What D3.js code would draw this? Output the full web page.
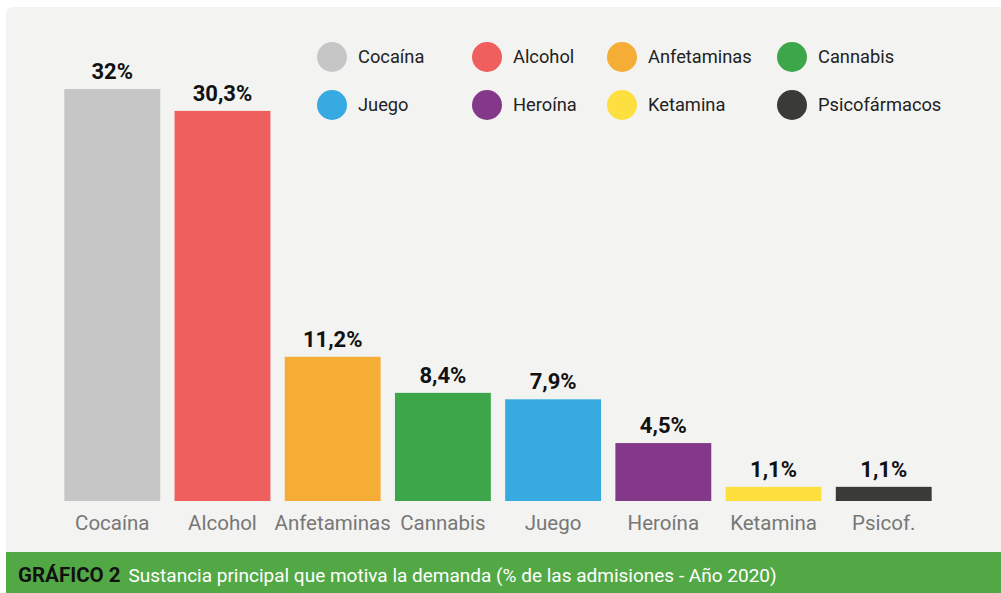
<!DOCTYPE html>
<html>
<head>
<meta charset="utf-8">
<script src="https://cdn.jsdelivr.net/npm/d3@7"></script>
<style>
  body { margin: 0; background: #fff; }
  svg { display: block; font-family: Roboto, "Noto Sans", sans-serif; }
</style>
</head>
<body>
<svg width="1001" height="593"></svg>
<script>
const categories = ['Cocaína', 'Alcohol', 'Anfetaminas', 'Cannabis', 'Juego', 'Heroína', 'Ketamina', 'Psicof.']
const legendNames = ['Cocaína', 'Alcohol', 'Anfetaminas', 'Cannabis', 'Juego', 'Heroína', 'Ketamina', 'Psicofármacos']
const values = [32, 30.3, 11.2, 8.4, 7.9, 4.5, 1.1, 1.1]
const colors = ['#c6c6c6', '#ee5f5e', '#f5ad35', '#3ea64a', '#38aae2', '#833889', '#fddf3f', '#3a3a38']

const svg = d3.select('svg')
const w = +svg.attr('width'), h = +svg.attr('height')

// panel background with rounded top-left corner
svg.append('path')
    .attr('d', `M6,15 Q6,7 14,7 L${w},7 L${w},${h} L6,${h} Z`)
    .attr('fill', '#f3f3f2')

const x = d3.scaleBand()
    .domain(categories)
    .range([50, 946])
    .padding(0.13)

const y = d3.scaleLinear()
    .domain([0, 32])
    .range([501, 89])

const fmt = v => String(v).replace('.', ',') + '%'

svg.selectAll('rect.bar')
    .data(values)
    .enter()
    .append('rect')
    .attr('class', 'bar')
    .attr('x', (d, i) => x(categories[i]))
    .attr('y', d => y(d))
    .attr('width', x.bandwidth())
    .attr('height', d => y(0) - y(d))
    .attr('fill', (d, i) => colors[i])

svg.selectAll('text.val')
    .data(values)
    .enter()
    .append('text')
    .attr('class', 'val')
    .attr('x', (d, i) => x(categories[i]) + x.bandwidth() / 2)
    .attr('y', d => y(d) - 10)
    .attr('text-anchor', 'middle')
    .attr('font-size', 22)
    .attr('font-weight', 'bold')
    .attr('fill', '#111')
    .text(fmt)

// category axis labels
const xAxis = svg.append('g')
    .attr('transform', `translate(0,${y(0)})`)
    .call(d3.axisBottom(x).tickSize(0).tickPadding(14))
xAxis.select('.domain').remove()
xAxis.selectAll('text')
    .attr('font-size', 20.5)
    .attr('font-family', 'Roboto, sans-serif')
    .attr('fill', '#777')

// legend
const legendX = [332, 487, 622, 792]
const legendY = [57, 105]
const legend = svg.selectAll('g.leg')
    .data(legendNames)
    .enter()
    .append('g')
    .attr('class', 'leg')
    .attr('transform', (d, i) => `translate(${legendX[i % 4]},${legendY[Math.floor(i / 4)]})`)
legend.append('circle')
    .attr('r', 15)
    .attr('fill', (d, i) => colors[i])
legend.append('text')
    .attr('x', 26)
    .attr('dy', '0.35em')
    .attr('font-size', 18.3)
    .attr('fill', '#222')
    .text(d => d)

// footer band
svg.append('rect')
    .attr('x', 6)
    .attr('y', 552)
    .attr('width', w - 6)
    .attr('height', h - 552)
    .attr('fill', '#53a846')
const footer = svg.append('text')
    .attr('x', 18)
    .attr('y', 582)
    .attr('font-size', 19)
footer.append('tspan')
    .attr('font-weight', 'bold')
    .attr('font-size', 20.5)
    .attr('fill', '#111')
    .text('GRÁFICO 2')
footer.append('tspan')
    .attr('dx', 8)
    .attr('fill', '#fff')
    .text('Sustancia principal que motiva la demanda (% de las admisiones - Año 2020)')
</script>
</body>
</html>
